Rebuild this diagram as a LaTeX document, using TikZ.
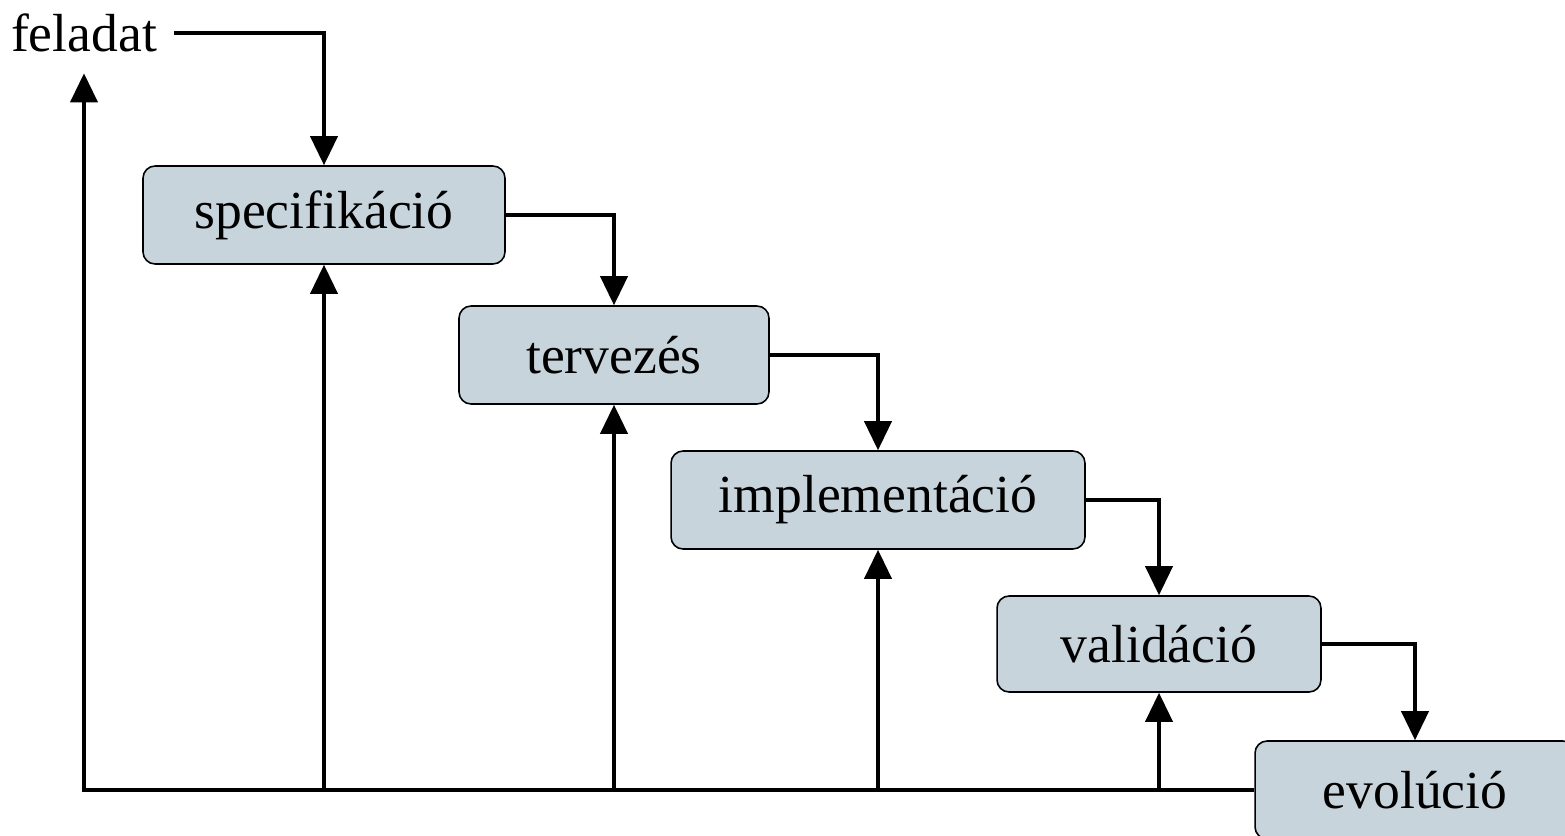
\documentclass[tikz,border=0pt]{standalone}
\usepackage{fontspec}
\setmainfont{Liberation Serif}
\usetikzlibrary{arrows.meta,positioning}
\definecolor{phase}{HTML}{C8D4DC}

\begin{document}
\begin{tikzpicture}[x=0.02cm,y=-0.02cm,font=\fontsize{30.5}{36}\selectfont,
  phasebox/.style={draw=black,line width=0.9pt,fill=phase,rounded corners=0.24cm,
                   minimum height=1.96cm,align=center},
  flow/.style={-{Triangle[length=0.58cm,width=0.54cm]},line width=2.2pt,draw=black}]
\useasboundingbox (0,0) rectangle (1565,835);
\clip (0,0) rectangle (1565,835);
% waterfall phases
\node[phasebox,minimum width=7.24cm](spec) at (324,215){specifikáció};
\node[phasebox,minimum width=6.2cm](terv) at (614,355){tervezés};
\node[phasebox,minimum width=8.28cm](impl) at (878,500){implementáció};
\node[phasebox,minimum width=6.48cm,minimum height=1.92cm](valid) at (1159,644){validáció};
\node[phasebox,minimum width=6.4cm](evol) at (1415,790){evolúció};
\node(feladat) at (84,33){feladat};
% forward flow
\draw[flow,shorten <=0.22cm](feladat.east) -| (spec.north);
\draw[flow](spec.east) -| (terv.north);
\draw[flow](terv.east) -| (impl.north);
\draw[flow](impl.east) -| (valid.north);
\draw[flow](valid.east) -| (evol.north);
% feedback
\draw[flow,shorten >=0.3cm](evol.west) -| (feladat.south);
\foreach \n in {spec,terv,impl,valid}
  \draw[flow](\n.south |- evol.west) -- (\n.south);
\end{tikzpicture}
\end{document}
